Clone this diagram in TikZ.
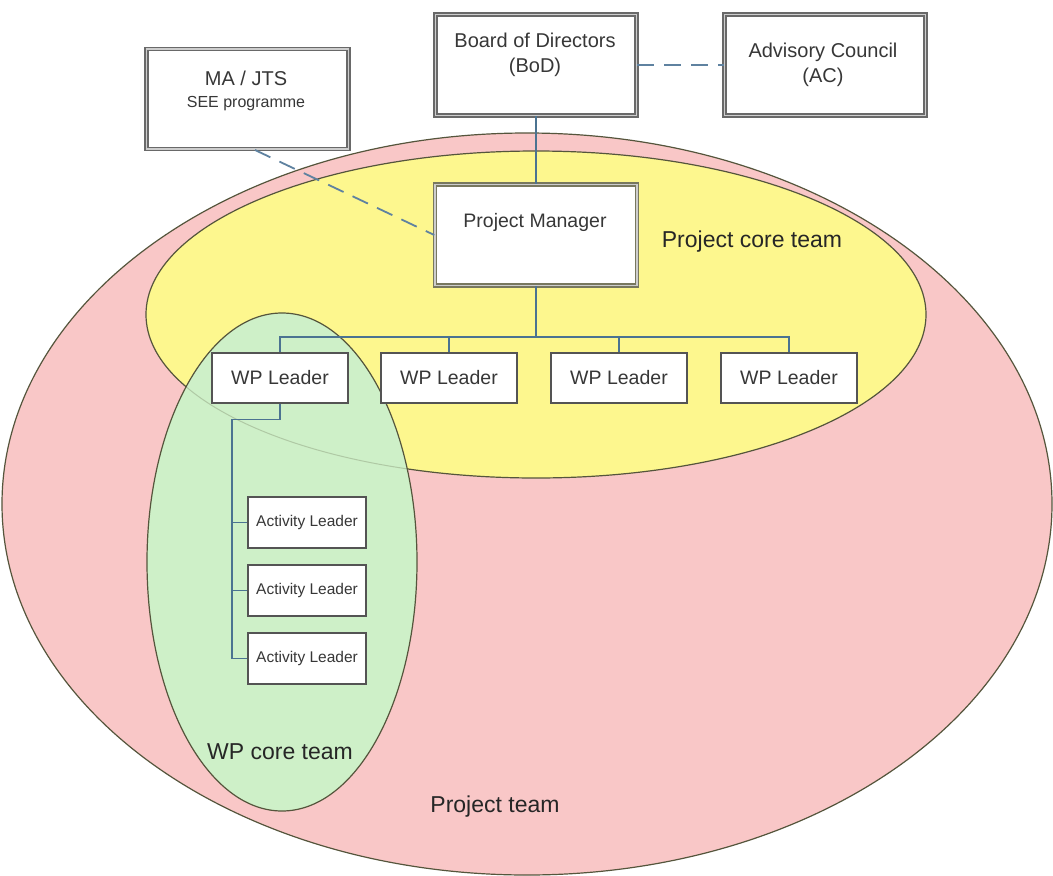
\documentclass[tikz,border=0pt]{standalone}
\usepackage{fontspec}
\setmainfont{Liberation Sans}
\definecolor{pinkfill}{RGB}{249,199,199}
\definecolor{yellowfill}{RGB}{253,247,142}
\definecolor{greenfill}{RGB}{206,240,200}
\definecolor{edgecol}{RGB}{85,85,60}
\definecolor{conncol}{RGB}{75,115,145}
\definecolor{dashcol}{RGB}{95,130,160}
\definecolor{boxgray}{RGB}{105,105,105}
\definecolor{boxlight}{RGB}{205,205,205}
\definecolor{pmgray}{RGB}{120,120,95}
\definecolor{txtcol}{RGB}{55,55,55}
\newcommand{\fsz}[1]{\fontsize{#1}{#1}\selectfont}
\begin{document}
\begin{tikzpicture}[x=1pt,y=-1pt,
  region/.style={draw=edgecol, line width=1.2pt},
  dbox/.style={draw=boxgray, line width=1.5pt, double=boxlight, double distance=1.3pt, fill=white, inner sep=0pt},
  pmbox/.style={dbox, draw=pmgray},
  sbox/.style={draw=boxgray!80!black, line width=1.3pt, fill=white, inner sep=0pt},
  txt/.style={text=txtcol, align=center, inner sep=0pt},
  conn/.style={draw=conncol, line width=1.6pt},
  dashconn/.style={draw=dashcol, line width=1.8pt, dash pattern=on 17pt off 10pt}]
\useasboundingbox (0,0) rectangle (1053,876);
% team regions
\fill[white] (0,0) rectangle (1053,876);
\draw[region, fill=pinkfill] (527,504) ellipse [x radius=525pt, y radius=371pt];
\draw[region, fill=yellowfill] (536,314.5) ellipse [x radius=390pt, y radius=163.5pt];
\draw[region, fill=greenfill] (282,562) ellipse [x radius=135pt, y radius=249pt];
\begin{scope}
  \clip (282,562) ellipse [x radius=135pt, y radius=249pt];
  \draw[edgecol, line width=1pt, opacity=0.25] (536,314.5) ellipse [x radius=390pt, y radius=163.5pt];
\end{scope}
\node[txt, text=black!85, font=\fsz{23}] (lcore) at (752,242) {Project core team};
\node[txt, text=black!85, font=\fsz{23}] (lwp) at (280,752) {WP core team};
\node[txt, text=black!85, font=\fsz{23}] (lteam) at (495,807) {Project team};
% boxes
\node[dbox, minimum width=202pt, minimum height=100pt] (ma) at (247.5,99) {};
\node[txt] (mat) at (246,90.5) {{\fsz{20}MA / JTS}\\[10pt]{\fsz{16}SEE programme}};
\node[dbox, minimum width=201pt, minimum height=101pt] (bod) at (536,65) {};
\node[txt, font=\fsz{20}] (bodt) at (535,54.5) {Board of Directors\\[5pt](BoD)};
\node[dbox, minimum width=201pt, minimum height=101pt] (ac) at (825,65) {};
\node[txt, font=\fsz{20}] (act) at (823,64.5) {Advisory Council\\[5pt](AC)};
\node[pmbox, minimum width=202pt, minimum height=101pt] (pm) at (536,235) {};
\node[txt, font=\fsz{19.5}] (pmt) at (535,222) {Project Manager};
% WP leaders
\node[sbox, minimum width=136pt, minimum height=50pt, font=\fsz{19.5}, text=txtcol] (wp1) at (280,378) {WP Leader};
\node[sbox, minimum width=136pt, minimum height=50pt, font=\fsz{19.5}, text=txtcol] (wp2) at (449,378) {WP Leader};
\node[sbox, minimum width=136pt, minimum height=50pt, font=\fsz{19.5}, text=txtcol] (wp3) at (619,378) {WP Leader};
\node[sbox, minimum width=136pt, minimum height=50pt, font=\fsz{19.5}, text=txtcol] (wp4) at (789,378) {WP Leader};
% activity leaders
\node[sbox, minimum width=118pt, minimum height=51pt, font=\fsz{15.5}, text=txtcol] (a1) at (307,522.5) {Activity Leader};
\node[sbox, minimum width=118pt, minimum height=51pt, font=\fsz{15.5}, text=txtcol] (a2) at (307,590.5) {Activity Leader};
\node[sbox, minimum width=118pt, minimum height=51pt, font=\fsz{15.5}, text=txtcol] (a3) at (307,658.5) {Activity Leader};
% connectors
\coordinate (busy) at (0,337);
\coordinate (avx) at (232,0);
\draw[conn] (bod.south) -- (pm.north);
\draw[conn] (pm.south) -- (pm.south |- busy);
\draw[conn] (wp1.north) -- (wp1.north |- busy) -- (wp4.north |- busy) -- (wp4.north);
\draw[conn] (wp2.north |- busy) -- (wp2.north);
\draw[conn] (wp3.north |- busy) -- (wp3.north);
\draw[conn, line width=1.3pt] (wp1.south) -- ++(0,16) -| (avx |- a3.west) -- (a3.west);
\draw[conn, line width=1.3pt] (avx |- a1.west) -- (a1.west);
\draw[conn, line width=1.3pt] (avx |- a2.west) -- (a2.west);
\draw[dashconn] (bod.east |- ac.west) -- (ac.west);
\coordinate (mafoot) at (255,150);
\draw[dashconn] (mafoot) -- (pm.west |- 0,235);
\end{tikzpicture}
\end{document}
